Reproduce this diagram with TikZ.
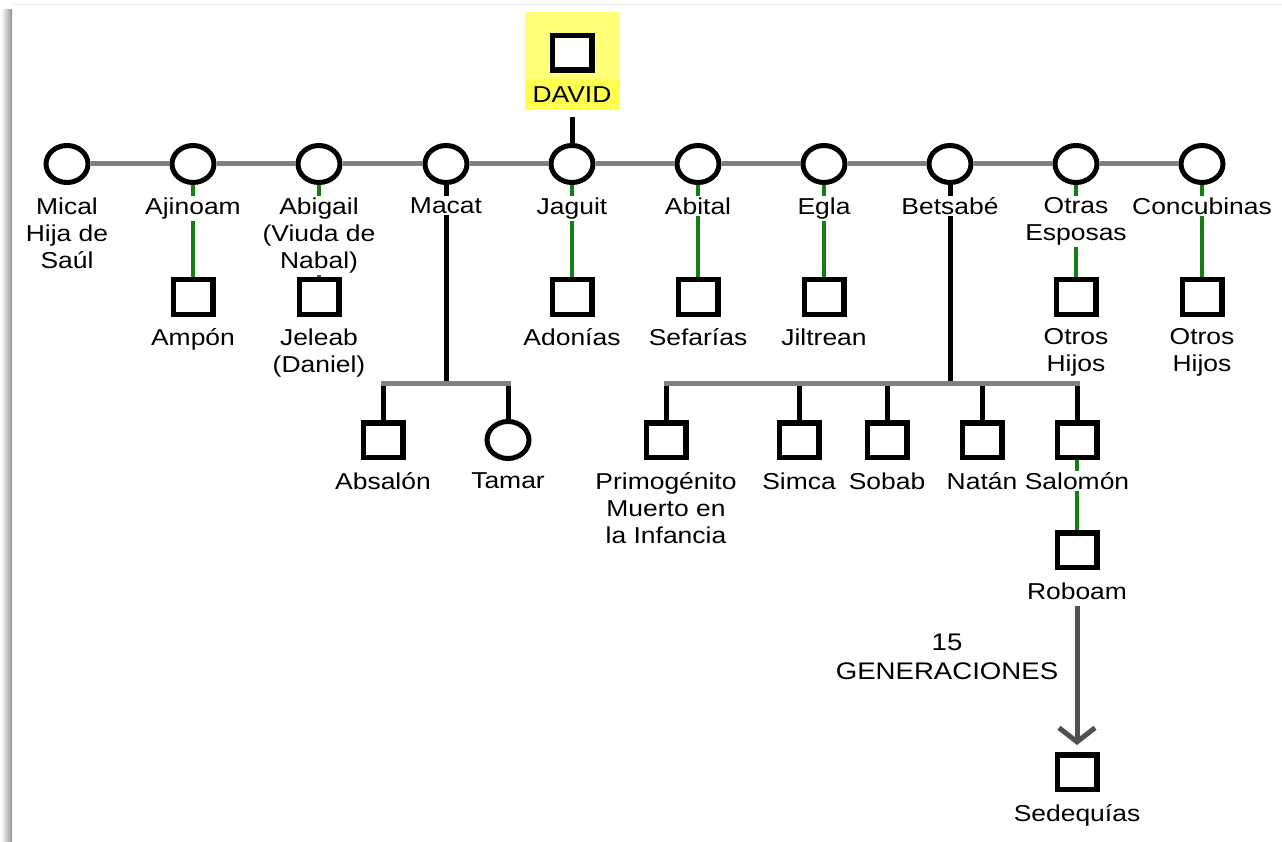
\documentclass[tikz,border=0pt]{standalone}
\usepackage{fontspec}
\setmainfont{Liberation Sans}[FakeStretch=1.15]
\usetikzlibrary{shapes.geometric,arrows.meta}

\definecolor{lineagris}{RGB}{128,128,128}
\definecolor{lineaverde}{RGB}{20,128,20}
\definecolor{lineaoscura}{RGB}{80,80,80}
\definecolor{amarilloA}{RGB}{255,255,120}
\definecolor{amarilloB}{RGB}{255,255,80}

\begin{document}
\begin{tikzpicture}[x=1pt,y=-1pt]
   \tikzstyle{every node}=[font=\fontsize{23}{27}\selectfont]
   \tikzstyle{mujer}=[draw, ellipse, line width=5pt, minimum width=42pt, minimum height=37pt, fill=white, inner sep=0pt]
   \tikzstyle{hombre}=[draw, rectangle, line width=5.5pt, minimum width=39.5pt, minimum height=34.5pt, fill=white, inner sep=0pt]
   \tikzstyle{nombre}=[anchor=north, align=center, fill=white, inner sep=1.5pt]
   \tikzstyle{pareja}=[draw=lineagris, line width=5pt]
   \tikzstyle{hijo}=[draw=black, line width=5pt]
   \tikzstyle{linaje}=[draw=lineaverde, line width=4.5pt]
   \tikzstyle{hermanos}=[draw=lineagris, line width=5pt, line cap=rect]
   \tikzstyle{flecha}=[draw=lineaoscura, line width=5pt, -{Straight Barb[length=14pt, width=36pt]}, shorten <=5pt, shorten >=7pt]

\useasboundingbox (0,0) rectangle (1282,842);
\fill[left color=white, right color=gray!85] (1,10) rectangle (12,842);
\draw[gray!15, line width=1pt] (12,5) -- (1282,5);

\node[fill=amarilloA, minimum width=95pt, minimum height=98pt, inner sep=0pt] (fondo) at (572,61) {};
\node[hombre] (david) at (572,53) {};
\node[fill=amarilloB, minimum width=95pt, minimum height=31pt, inner sep=0pt, anchor=south] (ldavid) at (572,110) {DAVID};

\node[mujer] (mical) at (67,164) {};
\node[mujer] (ajinoam) at (193,164) {};
\node[mujer] (abigail) at (319,164) {};
\node[mujer] (macat) at (446,164) {};
\node[mujer] (jaguit) at (572,164) {};
\node[mujer] (abital) at (698,164) {};
\node[mujer] (egla) at (824,164) {};
\node[mujer] (betsabe) at (950,164) {};
\node[mujer] (otras) at (1076,164) {};
\node[mujer] (concubinas) at (1202,164) {};

\node[hombre] (ampon) at (193,297) {};
\node[hombre] (jeleab) at (319,297) {};
\node[hombre] (adonias) at (572,297) {};
\node[hombre] (sefarias) at (698,297) {};
\node[hombre] (jiltrean) at (824,297) {};
\node[hombre] (hijosA) at (1076,297) {};
\node[hombre] (hijosB) at (1202,297) {};

\node[hombre] (absalon) at (383,440) {};
\node[mujer] (tamar) at (508,440) {};
\node[hombre] (primogenito) at (666,440) {};
\node[hombre] (simca) at (799,440) {};
\node[hombre] (sobab) at (887,440) {};
\node[hombre] (natan) at (982,440) {};
\node[hombre] (salomon) at (1077,440) {};
\node[hombre] (roboam) at (1077,550) {};
\node[hombre] (sedequias) at (1077,772) {};

\coordinate (mcentro) at (446,383);
\coordinate (mizq) at (383,383);
\coordinate (mder) at (508,383);
\coordinate (bcentro) at (950,383);
\coordinate (b1) at (666,383);
\coordinate (b2) at (799,383);
\coordinate (b3) at (887,383);
\coordinate (b4) at (982,383);
\coordinate (b5) at (1077,383);

\draw[pareja] (mical) -- (ajinoam) -- (abigail) -- (macat) -- (jaguit) -- (abital) -- (egla) -- (betsabe) -- (otras) -- (concubinas);
\draw[hijo] ([yshift=-7pt]fondo.south) -- (jaguit);
\draw[linaje] (ajinoam) -- (ampon);
\draw[linaje] (abigail) -- (jeleab);
\draw[linaje] (jaguit) -- (adonias);
\draw[linaje] (abital) -- (sefarias);
\draw[linaje] (egla) -- (jiltrean);
\draw[linaje] (otras) -- (hijosA);
\draw[linaje] (concubinas) -- (hijosB);
\draw[linaje] (salomon) -- (roboam);
\draw[hijo] (macat) -- (mcentro);
\draw[hijo] (mizq) -- (absalon);
\draw[hijo] (mder) -- (tamar);
\draw[hermanos] (mizq) -- (mder);
\draw[hijo] (betsabe) -- (bcentro);
\draw[hijo] (b1) -- (primogenito);
\draw[hijo] (b2) -- (simca);
\draw[hijo] (b3) -- (sobab);
\draw[hijo] (b4) -- (natan);
\draw[hijo] (b5) -- (salomon);
\draw[hermanos] (b1) -- (b5);

\node[nombre] (lmical) at (67,196) {Mical\\Hija de\\Saúl};
\node[nombre] (lajinoam) at (193,196) {Ajinoam};
\node[nombre] (labigail) at (319,196) {Abigail\\(Viuda de\\Nabal)};
\node[nombre] (lmacat) at (446,196) {Macat};
\node[nombre] (ljaguit) at (572,196) {Jaguit};
\node[nombre] (labital) at (698,196) {Abital};
\node[nombre] (legla) at (824,196) {Egla};
\node[nombre] (lbetsabe) at (950,196) {Betsabé};
\node[nombre] (lotras) at (1076,196) {Otras\\Esposas};
\node[nombre] (lconcubinas) at (1202,196) {Concubinas};

\node[nombre] (lampon) at (193,327) {Ampón};
\node[nombre] (ljeleab) at (319,327) {Jeleab\\(Daniel)};
\node[nombre] (ladonias) at (572,327) {Adonías};
\node[nombre] (lsefarias) at (698,327) {Sefarías};
\node[nombre] (ljiltrean) at (824,327) {Jiltrean};
\node[nombre] (lhijosA) at (1076,327) {Otros\\Hijos};
\node[nombre] (lhijosB) at (1202,327) {Otros\\Hijos};

\node[nombre] (labsalon) at (383,471) {Absalón};
\node[nombre] (ltamar) at (508,471) {Tamar};
\node[nombre] (lprimogenito) at (666,471) {Primogénito\\Muerto en\\la Infancia};
\node[nombre] (lsimca) at (799,471) {Simca};
\node[nombre] (lsobab) at (887,471) {Sobab};
\node[nombre] (lnatan) at (982,471) {Natán};
\node[nombre] (lsalomon) at (1077,471) {Salomón};
\node[nombre] (lroboam) at (1077,581) {Roboam};
\node[nombre] (lsedequias) at (1077,803) {Sedequías};

\node[align=center, font=\fontsize{24}{29}\selectfont] (generaciones) at (947,657) {15\\GENERACIONES};
\draw[flecha] (lroboam) -- (sedequias);

\end{tikzpicture}
\end{document}
